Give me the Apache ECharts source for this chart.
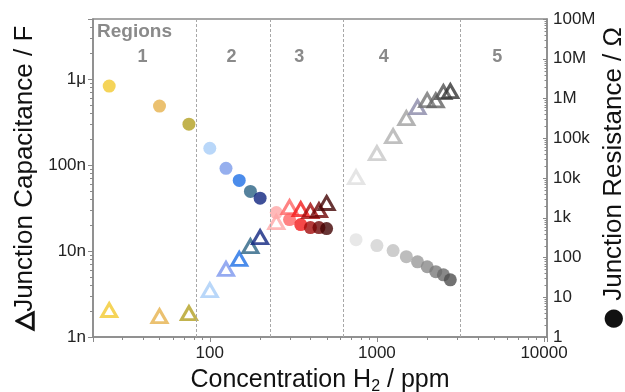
<!DOCTYPE html>
<html><head><meta charset="utf-8">
<script src="https://cdn.jsdelivr.net/npm/echarts@6/dist/echarts.min.js"></script>
<style>html,body{margin:0;padding:0;background:#fff}#c{width:625px;height:392px}</style>
</head><body><div id="c"></div>
<script>
// ---- data ----
const concentration = [25, 50, 75, 100, 125, 150, 175, 200, 250, 300, 350, 400, 450, 500, 750, 1000, 1250, 1500, 1750, 2000, 2250, 2500, 2750];
const capacitance = [2.06e-9, 1.75e-9, 1.9e-9, 3.5e-9, 6.2e-9, 8.1e-9, 11.4e-9, 14.5e-9, 21.7e-9, 32.5e-9, 30.8e-9, 29.2e-9, 30e-9, 36.2e-9, 72.5e-9, 138e-9, 217e-9, 352e-9, 472e-9, 570e-9, 566e-9, 706e-9, 725e-9];
const resistance = [2.05e6, 6.45e5, 2.26e5, 5.6e4, 1.75e4, 8.7e3, 4.6e3, 3.1e3, 1350, 900, 674, 567, 567, 535, 281, 199, 149, 105, 78, 58.5, 44, 36.7, 27.5];
const circleColors = ['#F3C92F', '#E6B24C', '#B3A022',
  '#A7CDF7', '#7C9BEA', '#1E6FE6', '#2B6384', '#0F2480',
  '#FFA8A8', '#FF6464', '#F21A1A', '#A30A0A', '#6E0505', '#420202',
  '#E2E2E2', '#D2D2D2', '#C0C0C0', '#ADADAD', '#9A9A9A', '#8A8A8A', '#7A7A7A', '#6A6A6A', '#4F4F4F'];
const triangleColors = ['#F3C92F', '#E6B24C', '#B3A022',
  '#A7CDF7', '#7C96EE', '#1E6FE6', '#2B6384', '#0F2480',
  '#FFA8A8', '#FF6464', '#F21A1A', '#A30A0A', '#6E0505', '#420202',
  '#DEDEDE', '#C8C8C8', '#B0B0B0', '#A0A0A0', '#8A88A8', '#747474', '#636363', '#505050', '#333333'];
const regionBounds = [83, 231, 628, 3160];
const regionNames = ['1', '2', '3', '4', '5'];
const regionLabelX = [39.5, 135, 343, 1100, 5250];
const xTickLabels = {2: '100', 3: '1000', 4: '10000'};
const capTickLabels = {'-9': '1n', '-8': '10n', '-7': '100n', '-6': '1μ'};
const resTickLabels = {0: '1', 1: '10', 2: '100', 3: '1k', 4: '10k', 5: '100k', 6: '1M', 7: '10M', 8: '100M'};

const FONT = 'Liberation Sans, Arial, sans-serif';
const AXC = '#8a8a8a';
function fmt(map) {
  return function (v) {
    const e = Math.log10(v);
    const r = Math.round(e);
    if (Math.abs(e - r) > 1e-6) return '';
    return map[r] !== undefined ? map[r] : '';
  };
}

const chart = echarts.init(document.getElementById('c'), null, {renderer: 'canvas'});
const grid = {left: 93, right: 78, top: 19, bottom: 55};
const option = {
  animation: false,
  backgroundColor: '#fff',
  textStyle: {fontFamily: FONT},
  grid: Object.assign({show: true, borderColor: AXC, borderWidth: 1.5, backgroundColor: 'transparent', containLabel: false, outerBoundsMode: 'none'}, grid),
  xAxis: {
    type: 'log', logBase: 10, min: 20, max: 10420,
    name: '{a|Concentration H}{s|2}{a| / ppm}',
    nameLocation: 'middle', nameGap: 24,
    nameTextStyle: {rich: {
      a: {fontSize: 25, fontFamily: FONT, color: '#111', lineHeight: 30},
      s: {fontSize: 16, fontFamily: FONT, color: '#111', lineHeight: 30, verticalAlign: 'bottom', padding: [12, 0, 0, 0]}
    }},
    axisLine: {show: true, lineStyle: {color: AXC, width: 1.5}},
    axisTick: {show: true, length: 5, lineStyle: {color: AXC, width: 1}},
    axisLabel: {formatter: fmt(xTickLabels), fontSize: 17, color: '#222', margin: 8, fontFamily: FONT},
    splitLine: {show: false}
  },
  yAxis: [{
    type: 'log', logBase: 10, min: 1e-9, max: 5e-6, position: 'left',
    name: '{t|△}{a|Junction Capacitance / F}',
    nameLocation: 'middle', nameGap: 53, nameRotate: 90, nameMoveOverlap: false,
    nameTextStyle: {rich: {
      t: {fontSize: 24, fontWeight: 'bold', fontFamily: 'DejaVu Sans', color: '#111', textBorderColor: '#111', textBorderWidth: 1.6, lineHeight: 30},
      a: {fontSize: 26, fontFamily: FONT, color: '#111', lineHeight: 30}
    }},
    axisLine: {show: true, lineStyle: {color: AXC, width: 1.5}},
    axisTick: {show: true, length: 5, lineStyle: {color: AXC, width: 1}},
    axisLabel: {formatter: fmt(capTickLabels), fontSize: 17, color: '#222', margin: 7, fontFamily: FONT},
    splitLine: {show: false}
  }, {
    type: 'log', logBase: 10, min: 1, max: 1e8, position: 'right',
    name: '{t|●}{a| Junction Resistance / Ω}',
    nameLocation: 'middle', nameGap: 52, nameRotate: 90, nameMoveOverlap: false,
    nameTextStyle: {rich: {
      t: {fontSize: 24, fontFamily: 'DejaVu Sans', color: '#111', lineHeight: 30},
      a: {fontSize: 26, fontFamily: FONT, color: '#111', lineHeight: 30}
    }},
    axisLine: {show: true, lineStyle: {color: AXC, width: 1.5}},
    axisTick: {show: true, inside: true, length: 4, lineStyle: {color: AXC, width: 1}},
    axisLabel: {formatter: fmt(resTickLabels), fontSize: 17, color: '#222', margin: 6, fontFamily: FONT},
    splitLine: {show: false}
  }],
  series: [{
    type: 'scatter', name: 'Junction Resistance', yAxisIndex: 1,
    symbol: 'circle', symbolSize: 13, z: 2,
    data: concentration.map((c, i) => ({value: [c, resistance[i]], itemStyle: {color: circleColors[i]}})),
    markLine: {
      silent: true, symbol: 'none', label: {show: false},
      lineStyle: {type: [3, 2], color: '#a8a8a8', width: 1},
      data: regionBounds.map(b => ({xAxis: b}))
    }
  }, {
    type: 'scatter', name: 'Junction Capacitance', yAxisIndex: 0,
    symbol: 'triangle', symbolSize: [15, 13], z: 3,
    data: concentration.map((c, i) => ({value: [c, capacitance[i]], itemStyle: {color: 'rgba(255,255,255,0)', borderColor: triangleColors[i], borderWidth: 3}}))
  }]
};
chart.setOption(option);

// minor log ticks + region labels, placed through the axes' own scales
function minorValues(lo, hi) {
  const out = [];
  for (let d = Math.floor(Math.log10(lo)); d <= Math.ceil(Math.log10(hi)); d++) {
    for (let k = 2; k <= 9; k++) {
      const v = k * Math.pow(10, d);
      if (v > lo * 1.0001 && v < hi * 0.9999) out.push(v);
    }
  }
  return out;
}
const g = [];
const lineStyle = {stroke: AXC, lineWidth: 1};
const yBottom = chart.convertToPixel({yAxisIndex: 1}, 1);
const xLeft = chart.convertToPixel({xAxisIndex: 0}, 20);
const xRight = chart.convertToPixel({xAxisIndex: 0}, 10420);
minorValues(20, 10420).forEach(v => {
  const x = Math.round(chart.convertToPixel({xAxisIndex: 0}, v)) + 0.5;
  g.push({type: 'line', silent: true, shape: {x1: x, y1: yBottom, x2: x, y2: yBottom + 3}, style: lineStyle});
});
minorValues(1e-9, 5e-6).forEach(v => {
  const y = Math.round(chart.convertToPixel({yAxisIndex: 0}, v)) + 0.5;
  g.push({type: 'line', silent: true, shape: {x1: xLeft - 3, y1: y, x2: xLeft, y2: y}, style: lineStyle});
});
minorValues(1, 1e8).forEach(v => {
  const y = Math.round(chart.convertToPixel({yAxisIndex: 1}, v)) + 0.5;
  g.push({type: 'line', silent: true, shape: {x1: xRight - 2.5, y1: y, x2: xRight, y2: y}, style: lineStyle});
});
regionNames.forEach((n, i) => {
  const x = chart.convertToPixel({xAxisIndex: 0}, regionLabelX[i]);
  g.push({type: 'text', silent: true, x: x, y: 57, style: {text: n, fill: '#8a8a8a', font: 'bold 18px ' + FONT, align: 'center', verticalAlign: 'middle'}});
});
g.push({type: 'text', silent: true, x: xLeft + 4, y: 32, style: {text: 'Regions', fill: '#8a8a8a', font: 'bold 19px ' + FONT, align: 'left', verticalAlign: 'middle'}});
chart.setOption({graphic: g});
</script>
</body></html>
